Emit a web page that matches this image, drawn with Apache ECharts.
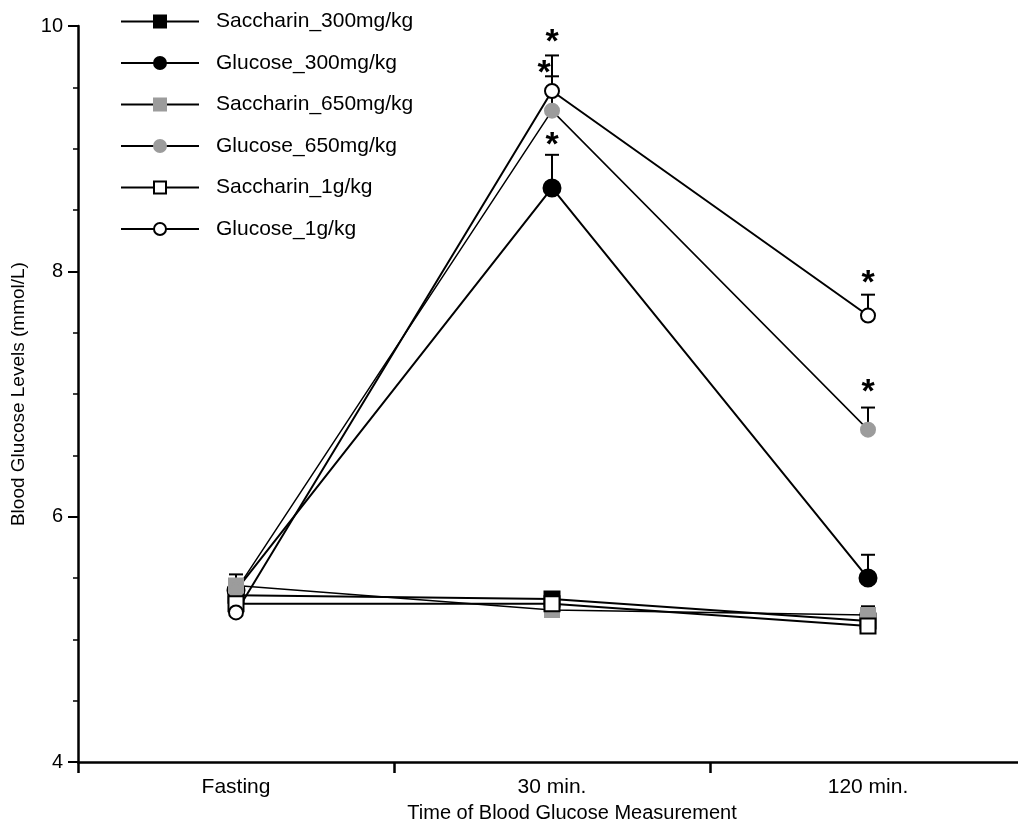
<!DOCTYPE html>
<html>
<head>
<meta charset="utf-8">
<script src="https://cdn.jsdelivr.net/npm/echarts@6/dist/echarts.min.js"></script>
<style>html,body{margin:0;padding:0;background:#fff;overflow:hidden}#c{width:1026px;height:828px}</style>
</head>
<body>
<div id="c"></div>
<script>
var categories = ['Fasting', '30 min.', '120 min.'];
var yTicks = [4, 6, 8, 10];

var sacch300 = [5.36, 5.33, 5.15];
var gluc300 = [5.40, 8.68, 5.50];
var sacch650 = [5.44, 5.24, 5.20];
var gluc650 = [5.40, 9.31, 6.71];
var sacch1g = [5.29, 5.29, 5.11];
var gluc1g = [5.22, 9.47, 7.64];

var sacch300Err = [0.07, 0.04, 0.07];
var gluc300Err = [0.08, 0.27, 0.19];
var sacch650Err = [0.09, 0.05, 0.07];
var gluc650Err = [0.08, 0.28, 0.18];
var sacch1gErr = [0.06, 0.05, 0.09];
var gluc1gErr = [0.06, 0.29, 0.17];

// significance stars: [category index, value, horizontal shift]
var stars = [[1, 9.91, 0], [1, 9.66, -8], [1, 9.07, 0], [2, 7.95, 0], [2, 7.06, 0]];

var FONT = 'Liberation Sans, Arial, sans-serif';
var GRAY = '#9c9c9c';

function lineSeries(name, data, symbol, size, fill, border, lw) {
  return {
    name: name, type: 'line', data: data, symbol: symbol, symbolSize: size,
    lineStyle: {color: '#000', width: lw},
    itemStyle: {color: fill, borderColor: border, borderWidth: 2, opacity: 1},
    emphasis: {disabled: true}, z: 3
  };
}

function errSeries(means, errs) {
  return {
    type: 'custom', silent: true, z: 2,
    data: means.map(function (m, i) { return [i, m, m + errs[i]]; }),
    renderItem: function (params, api) {
      var p0 = api.coord([api.value(0), api.value(1)]);
      var p1 = api.coord([api.value(0), api.value(2)]);
      return {type: 'group', children: [
        {type: 'line', shape: {x1: p0[0], y1: p0[1], x2: p1[0], y2: p1[1]}, style: {stroke: '#000', lineWidth: 2}},
        {type: 'line', shape: {x1: p1[0] - 7, y1: p1[1], x2: p1[0] + 7, y2: p1[1]}, style: {stroke: '#000', lineWidth: 2}}
      ]};
    }
  };
}

var chart = echarts.init(document.getElementById('c'));
chart.setOption({
  animation: false,
  backgroundColor: '#fff',
  grid: {left: 78, right: 0, top: 26, bottom: 64, containLabel: false},
  legend: {
    orient: 'vertical', left: 115, top: 6, itemWidth: 78, itemHeight: 15, itemGap: 20.5,
    textStyle: {fontFamily: FONT, fontSize: 21, lineHeight: 20.5, color: '#000', padding: [0, 0, 0, 12]},
    data: ['Saccharin_300mg/kg', 'Glucose_300mg/kg', 'Saccharin_650mg/kg', 'Glucose_650mg/kg', 'Saccharin_1g/kg', 'Glucose_1g/kg']
  },
  xAxis: {
    type: 'category', data: categories, boundaryGap: true,
    name: 'Time of Blood Glucose Measurement', nameLocation: 'middle', nameGap: 40,
    nameTextStyle: {fontFamily: FONT, fontSize: 20, color: '#000', padding: [0, 0, 0, 40]},
    axisLine: {lineStyle: {color: '#000', width: 2.5}},
    axisTick: {show: true, length: 11, lineStyle: {color: '#000', width: 2.5}, alignWithLabel: false},
    axisLabel: {fontFamily: FONT, fontSize: 21, color: '#000', margin: 15},
    splitLine: {show: false}
  },
  yAxis: {
    type: 'value', min: 4, max: 10, interval: 2,
    name: 'Blood Glucose Levels (mmol/L)', nameLocation: 'middle', nameGap: 50,
    nameTextStyle: {fontFamily: FONT, fontSize: 19, color: '#000'},
    axisLine: {show: true, lineStyle: {color: '#000', width: 2.5}},
    axisTick: {show: true, length: 10, lineStyle: {color: '#000', width: 2}},
    minorTick: {show: true, splitNumber: 4, length: 5, lineStyle: {color: '#000', width: 1.5}},
    axisLabel: {fontFamily: FONT, fontSize: 20, color: '#000', margin: 15},
    splitLine: {show: false}
  },
  series: [
    errSeries(sacch300, sacch300Err),
    errSeries(gluc300, gluc300Err),
    errSeries(sacch650, sacch650Err),
    errSeries(gluc650, gluc650Err),
    errSeries(sacch1g, sacch1gErr),
    errSeries(gluc1g, gluc1gErr),
    lineSeries('Saccharin_300mg/kg', sacch300, 'rect', 15, '#000', '#000', 2),
    lineSeries('Glucose_300mg/kg', gluc300, 'circle', 17, '#000', '#000', 2),
    lineSeries('Saccharin_650mg/kg', sacch650, 'rect', 14, GRAY, GRAY, 1.5),
    lineSeries('Glucose_650mg/kg', gluc650, 'circle', 14, GRAY, GRAY, 1.5),
    lineSeries('Saccharin_1g/kg', sacch1g, 'rect', 15, '#fff', '#000', 2),
    lineSeries('Glucose_1g/kg', gluc1g, 'circle', 14, '#fff', '#000', 2),
    {
      type: 'custom', silent: true, z: 5,
      data: stars,
      renderItem: function (params, api) {
        var p = api.coord([api.value(0), api.value(1)]);
        return {type: 'text', x: p[0] + api.value(2), y: p[1] + 6,
          style: {text: '*', fontFamily: FONT, fontSize: 34, fontWeight: 'bold', fill: '#000', align: 'center', verticalAlign: 'middle'}};
      }
    }
  ]
});
</script>
</body>
</html>
